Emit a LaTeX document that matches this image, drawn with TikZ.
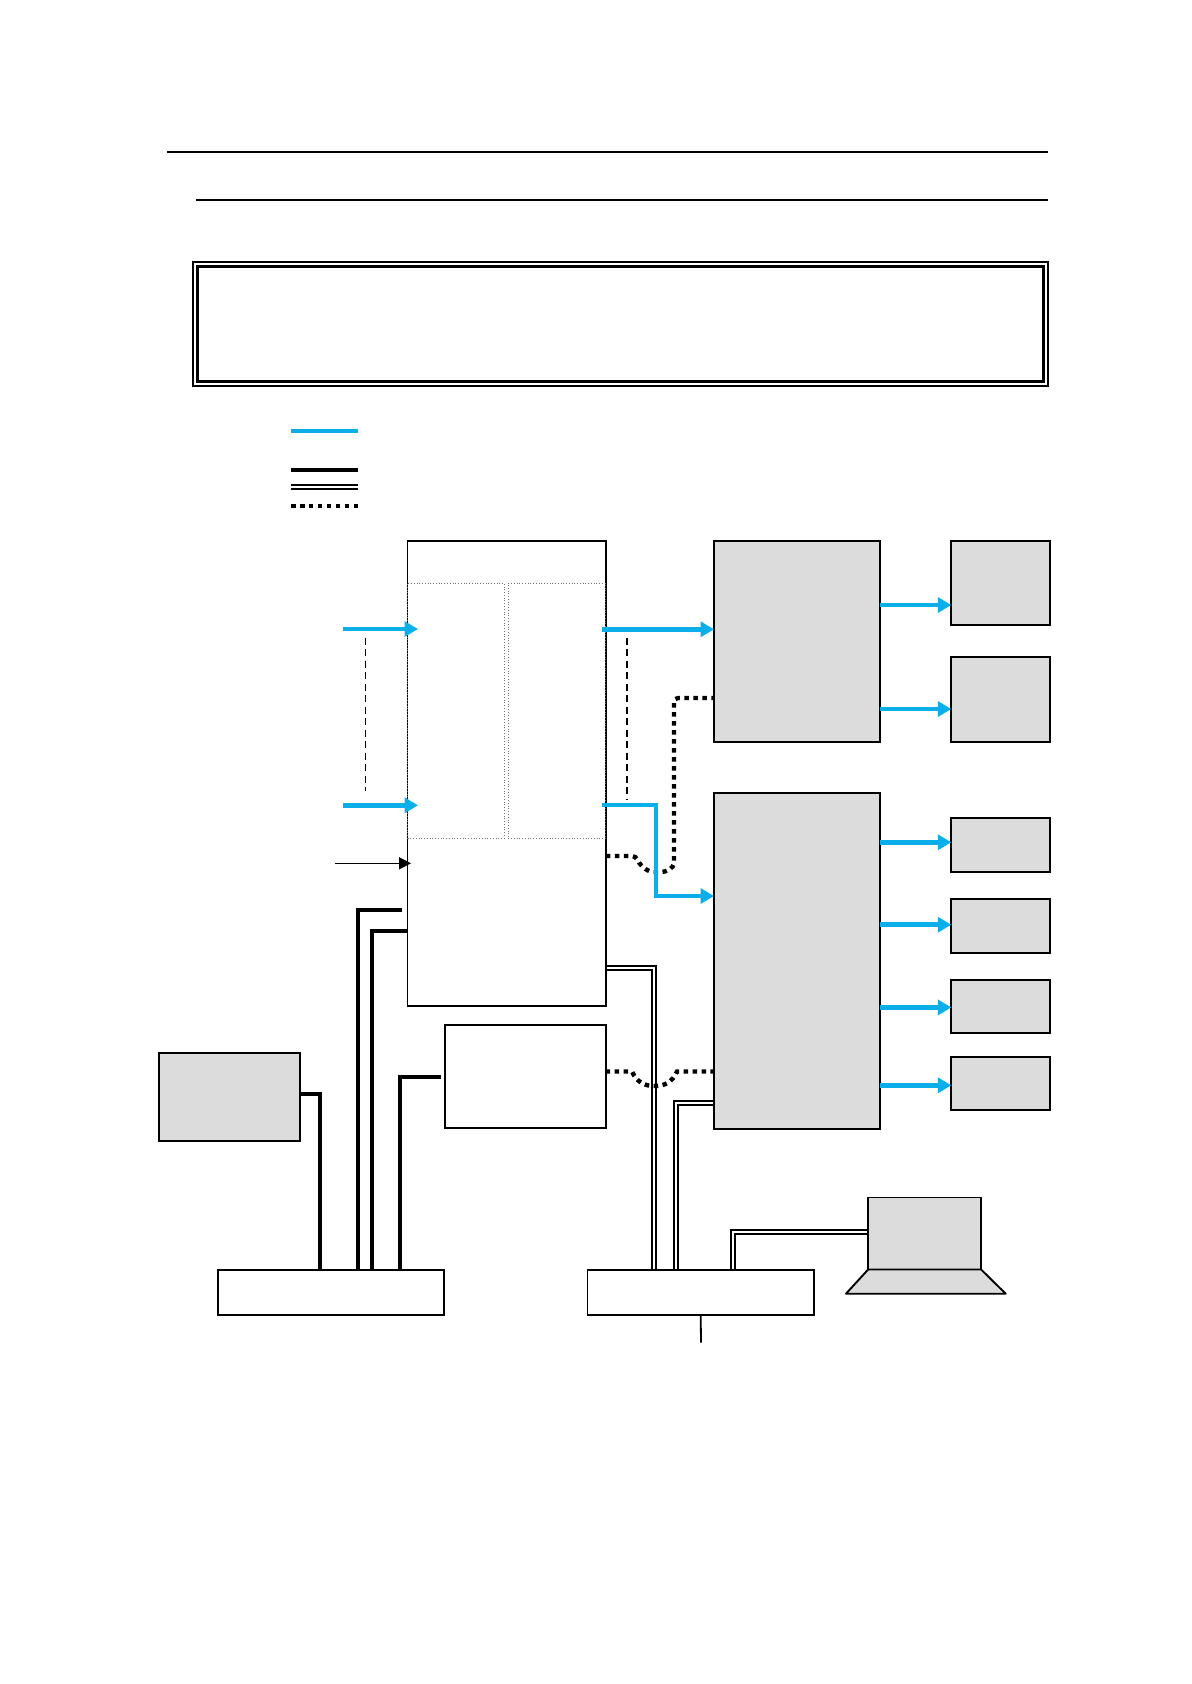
\documentclass[tikz,border=0pt]{standalone}
\usepackage{tikz}
\usetikzlibrary{arrows.meta, positioning, calc, backgrounds}
\definecolor{linkblue}{HTML}{0AAEE8}
\definecolor{unitgray}{HTML}{DCDCDC}

\begin{document}
\begin{tikzpicture}[
  x=0.02cm, y=-0.02cm,
  plainbox/.style={draw=black, fill=white, line width=0.038cm, inner sep=0pt, outer sep=0pt},
  graybox/.style={plainbox, fill=unitgray},
  subbox/.style={draw=black!55, densely dotted, line width=0.02cm, inner sep=0pt, outer sep=0pt},
  smallout/.style={graybox, minimum width=1.98cm, minimum height=1.072cm},
  tallout/.style={graybox, minimum width=1.98cm, minimum height=1.693cm},
  unit/.style={graybox, minimum width=3.32cm},
  busbar/.style={plainbox, minimum width=4.53cm, minimum height=0.9cm},
  rulel/.style={line width=0.04cm},
  dataline/.style={line width=0.09cm, linkblue},
  dataarrow/.style={dataline, -{Triangle[length=0.27cm, width=0.3cm]}},
  ctrlline/.style={line width=0.08cm, black},
  dualline/.style={double, draw=black, double=white, line width=0.036cm, double distance=0.046cm},
  dotline/.style={line width=0.088cm, black, dash pattern=on 0.09cm off 0.09cm},
]
  \useasboundingbox (0,0) rectangle (1191,1684);

  % header rules
  \coordinate (ruleAl) at (167,152);
  \coordinate (ruleAr) at (1048,152);
  \coordinate (ruleBl) at (196,200);
  \coordinate (ruleBr) at (1048,200);
  \draw[rulel] (ruleAl) -- (ruleAr);
  \draw[rulel] (ruleBl) -- (ruleBr);

  \node[plainbox, line width=0.05cm, minimum width=17.1cm, minimum height=2.48cm] (frameout) at (620.5,324) {};
  \node[plainbox, line width=0.06cm, minimum width=16.92cm, minimum height=2.32cm] (framein) at (620.3,324) {};

  % legend
  \coordinate (legAl) at (291,431);   \coordinate (legAr) at (358,431);
  \coordinate (legBl) at (291,470);   \coordinate (legBr) at (358,470);
  \coordinate (legCl) at (291,487);   \coordinate (legCr) at (358,487);
  \coordinate (legDl) at (291,506);   \coordinate (legDr) at (358,506);
  \draw[dataline] (legAl) -- (legAr);
  \draw[ctrlline] (legBl) -- (legBr);
  \draw[dualline] (legCl) -- (legCr);
  \draw[dotline] (legDl) -- (legDr);

  % boxes
  \node[plainbox, minimum width=3.97cm, minimum height=9.306cm] (main) at (506.75,773.35) {};
  \node[subbox, minimum width=1.936cm, minimum height=5.1cm] (subL) at (455.9,710.8) {};
  \node[subbox, minimum width=1.954cm, minimum height=5.1cm] (subR) at (557.15,710.8) {};
  \node[plainbox, minimum width=3.21cm, minimum height=2.06cm] (aux) at (525.5,1076.8) {};
  \node[graybox, minimum width=2.82cm, minimum height=1.772cm] (side) at (229.5,1097) {};

  \node[unit, minimum height=4.02cm] (unitA) at (797,641.2) {};
  \node[unit, minimum height=6.72cm] (unitB) at (797,960.7) {};

  \node[tallout] (outA) at (1000.8,583) {};
  \node[tallout] (outB) at (1000.8,699.35) {};
  \node[smallout] (outC) at (1000.8,845.15) {};
  \node[smallout] (outD) at (1000.8,925.8) {};
  \node[smallout] (outE) at (1000.8,1006.6) {};
  \node[smallout] (outF) at (1000.8,1083.5) {};

  \node[busbar] (busL) at (331.2,1292.5) {};
  \node[busbar] (busR) at (700.7,1292.5) {};
  \coordinate (stem) at (701,1342.7);
  \draw[line width=0.036cm] (busR.south) -- (stem);

  % laptop
  \node[graybox, minimum width=2.26cm, minimum height=1.44cm] (screen) at (924.6,1233.5) {};
  \coordinate (baseL) at (846,1293.7);
  \coordinate (baseR) at (1005.7,1293.7);
  \draw[graybox, line join=round] (screen.south west) -- (screen.south east) -- (baseR) -- (baseL) -- cycle;

  % double links go under the boxes
  \begin{scope}[on background layer]
    \draw[dualline] (main.east |- 0,968) -- (654,968) -- (654,1272);
    \draw[dualline] (unitB.west |- 0,1103.2) -- (676.3,1103.2) -- (676.3,1272);
    \draw[dualline] (screen.west |- 0,1232) -- (732.7,1232) -- (732.7,1272);
  \end{scope}

  % control links
  \draw[ctrlline] (side.east |- 0,1094) -- (320,1094) -- (320,0 |- busL.north);
  \coordinate (ctlA) at (401.7,910);
  \draw[ctrlline] (ctlA) -- (357.7,910) -- (357.7,0 |- busL.north);
  \draw[ctrlline] (main.west |- 0,931) -- (372,931) -- (372,0 |- busL.north);
  \coordinate (ctlB) at (441,1076.7);
  \draw[ctrlline] (ctlB) -- (400.2,1076.7) -- (400.2,0 |- busL.north);

  % dotted links
  \draw[dotline, rounded corners=0.08cm] (main.east |- 0,856) -- (636,856)
    .. controls (641,868) and (650,872) .. (657,872)
    .. controls (666,872) and (674,869) .. (674,858) -- (674,698) -- (unitA.west |- 0,698);
  \draw[dotline] (aux.east |- 0,1071.5) -- (632,1071.5)
    .. controls (637,1083) and (646,1086) .. (654,1086)
    .. controls (664,1086) and (672,1083) .. (677,1071.5) -- (unitB.west |- 0,1071.5);

  % dashed spans
  \coordinate (spanAt) at (365.3,637.7);
  \coordinate (spanAb) at (365.3,790.7);
  \coordinate (spanBt) at (627,637.7);
  \coordinate (spanBb) at (627,798.7);
  \draw[line width=0.022cm, dash pattern=on 0.14cm off 0.09cm] (spanAt) -- (spanAb);
  \draw[line width=0.04cm, dash pattern=on 0.14cm off 0.09cm] (spanBt) -- (spanBb);

  % Arrows
  \coordinate (inA) at (342.7,629);
  \coordinate (inB) at (342.7,805.3);
  \coordinate (inAtip) at (418,629);
  \coordinate (inBtip) at (418,805.3);
  \draw[dataarrow] (inA) -- (inAtip);
  \draw[dataarrow] (inB) -- (inBtip);
  \coordinate (clk) at (335,863.3);
  \coordinate (clktip) at (411,863.3);
  \draw[line width=0.03cm, -{Triangle[length=0.24cm, width=0.24cm]}] (clk) -- (clktip);
  \coordinate (feedA) at (602.3,629.3);
  \coordinate (feedB) at (602.3,805);
  \draw[dataarrow] (feedA) -- (unitA.west |- feedA);
  \draw[dataarrow] (feedB) -- (656,805) -- (656,896) -- (unitB.west |- 0,896);
  \foreach \src/\dst/\y in {unitA/outA/605, unitA/outB/709, unitB/outC/842.3,
                            unitB/outD/924.7, unitB/outE/1007.4, unitB/outF/1085.3}
    \draw[dataarrow] (\src.east |- 0,\y) -- (\dst.west |- 0,\y);
\end{tikzpicture}
\end{document}
